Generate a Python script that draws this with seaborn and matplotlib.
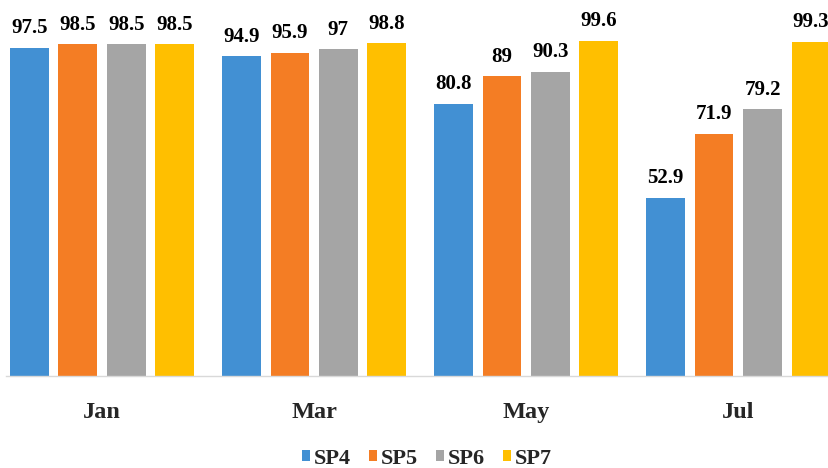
import matplotlib
matplotlib.use("Agg")
import matplotlib.pyplot as plt
import seaborn as sns
import pandas as pd

# Monthly values per sample point
months = ["Jan", "Mar", "May", "Jul"]
series_names = ["SP4", "SP5", "SP6", "SP7"]
sp4 = [97.5, 94.9, 80.8, 52.9]
sp5 = [98.5, 95.9, 89.0, 71.9]
sp6 = [98.5, 97.0, 90.3, 79.2]
sp7 = [98.5, 98.8, 99.6, 99.3]
colors = ["#4290D3", "#F47D24", "#A5A5A5", "#FFBF00"]

rows = []
for name, vals in zip(series_names, [sp4, sp5, sp6, sp7]):
    for m, v in zip(months, vals):
        rows.append({"Month": m, "Series": name, "Value": v})
df = pd.DataFrame(rows)

sns.set_style("white")
plt.rcParams["font.family"] = ["Liberation Serif", "DejaVu Serif"]
plt.rcParams["font.weight"] = "bold"

W, H = 829, 468
fig = plt.figure(figsize=(W / 100, H / 100), dpi=100)
ax = fig.add_axes([6 / W, 1 - 376 / H, 1 - 6 / W, 376 / H])

sns.barplot(data=df, x="Month", y="Value", hue="Series", order=months,
            hue_order=series_names, palette=colors, width=0.913, gap=0.2,
            saturation=1, errorbar=None, ax=ax, legend=True, linewidth=0)

for cont in ax.containers:
    ax.bar_label(cont, fmt="%g", padding=7, fontsize=15, fontweight="bold",
                 color="black", clip_on=False)

ax.set_ylim(0, 376 / 3.367)
ax.set_xlim(-0.4526, 3.4276)
ax.set_xlabel("")
ax.set_ylabel("")
ax.set_yticks([])
ax.tick_params(axis="x", length=0, pad=18.5, labelsize=17.5)
for lbl in ax.get_xticklabels():
    lbl.set_fontweight("bold")
for side in ["top", "right", "left"]:
    ax.spines[side].set_visible(False)
ax.spines["bottom"].set_color("#D9D9D9")
ax.spines["bottom"].set_linewidth(1.0)

handles, labels = ax.get_legend_handles_labels()
ax.get_legend().remove()
fig.legend(handles, labels, loc="center", bbox_to_anchor=(427 / W, 9.5 / H),
           ncol=4, frameon=False, handlelength=0.35,
           handleheight=0.35, handletextpad=0.2, columnspacing=0.8,
           borderpad=0.1, prop={"weight": "bold", "size": 16})

fig.savefig("out.png", dpi=100)
